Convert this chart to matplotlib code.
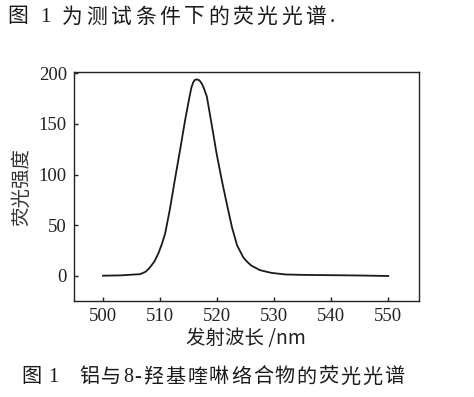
import matplotlib
matplotlib.use("Agg")
import matplotlib.pyplot as plt

# emission spectrum
wavelength = [500, 503, 506.5, 507.5, 508.2, 509, 509.7, 510.3, 510.9, 511.7,
              512.6, 513.5, 514.4, 514.9, 515.2, 515.5, 515.8, 516.1, 516.5,
              516.9, 517.3, 517.7, 518.2, 519.0, 519.9, 520.8, 521.7, 522.6,
              523.5, 524.6, 525.3, 526, 527.5, 529.5, 532, 535, 540, 545, 550]
intensity = [0, 0.3, 1.5, 4, 8, 14, 22, 31, 42, 65,
             95, 124, 154, 169, 178, 186, 191, 193.5, 194,
             193, 190, 185, 177, 151, 121, 95, 71, 48,
             30, 18, 13.5, 10, 5.5, 2.8, 1.2, 0.8, 0.5, 0.2, -0.3]

x_ticks = [500, 510, 520, 530, 540, 550]
y_ticks = [0, 50, 100, 150, 200]

serif_cjk = ['Liberation Serif', 'Noto Sans CJK SC']
cjk_first = ['Noto Sans CJK SC', 'Liberation Serif']
plt.rcParams['font.family'] = serif_cjk

W, H = 474, 397
fig = plt.figure(figsize=(W / 100, H / 100), dpi=100)
ax = fig.add_axes([0.156, 0.2426, 0.728, 0.5768])

ax.plot(wavelength, intensity, color='#1a1a1a', lw=1.3)

ax.set_xlim(494.9, 555.4)
ax.set_ylim(-24.7, 201.6)
ax.set_xticks(x_ticks)
ax.set_yticks(y_ticks)
ax.tick_params(direction='in', length=3, width=1, colors='#222222',
               labelsize=13.5, pad=5)
for sp in ax.spines.values():
    sp.set_linewidth(1)
    sp.set_color('#222222')

ax.set_xlabel('发射波长 /nm', family=cjk_first, fontsize=14, color='#222222',
              va='center')
ax.set_ylabel('荧光强度', family=cjk_first, fontsize=14, color='#333333',
              va='center', ha='center')
ax.xaxis.set_label_coords(0.4986, -0.163)
ax.yaxis.set_label_coords(-0.151, 0.497)

renderer = fig.canvas.get_renderer()


def spaced_text(x_px, y_px, s, size, gap):
    """write s char by char from x_px with extra gap (pixels) between chars"""
    x = x_px
    for ch in s:
        t = fig.text(x / W, 1 - y_px / H, ch, family=serif_cjk, fontsize=size,
                     va='center', ha='left', color='#1a1a1a')
        x += t.get_window_extent(renderer).width + gap


spaced_text(7, 18, '图 1 为测试条件下的荧光光谱.', 15, 3.4)
spaced_text(21, 378, '图 1', 14.5, 1)
spaced_text(79, 378, '铝与8-羟基喹啉络合物的荧光光谱', 14.5, 1.8)

fig.savefig('out.png', dpi=100)
